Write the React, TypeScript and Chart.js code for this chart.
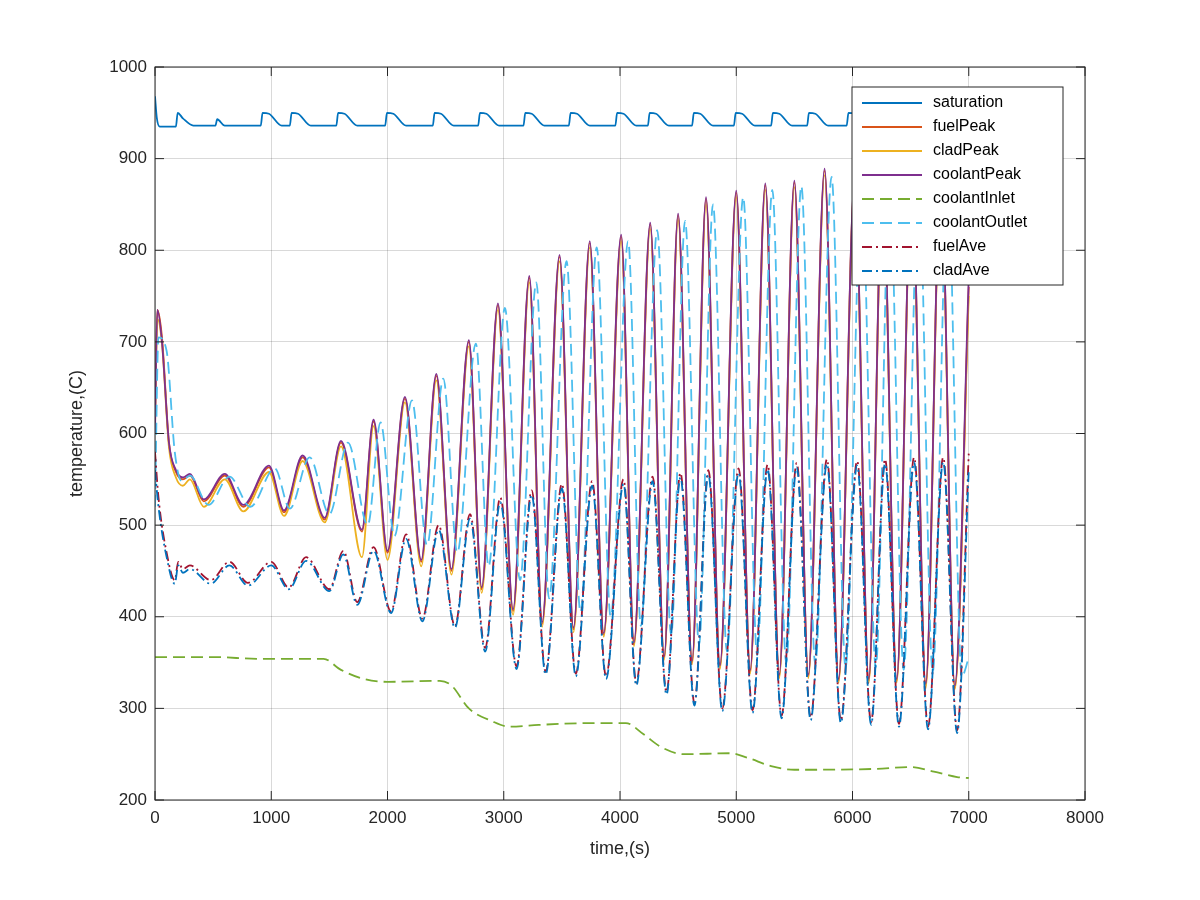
import React, { useEffect, useRef } from "react";
import { Chart, registerables } from "chart.js";

Chart.register(...registerables);

const seriesNames = ["saturation", "fuelPeak", "cladPeak", "coolantPeak", "coolantInlet", "coolantOutlet", "fuelAve", "cladAve"];
const seriesColors = ["#0072BD", "#D95319", "#EDB120", "#7E2F8E", "#77AC30", "#4DBEEE", "#A2142F", "#0072BD"];
const seriesDash = [[], [], [], [], [12, 6], [12, 6], [10, 4, 2, 4], [10, 4, 2, 4]];

const xTicks = [0, 1000, 2000, 3000, 4000, 5000, 6000, 7000, 8000];
const yTicks = [200, 300, 400, 500, 600, 700, 800, 900, 1000];

const saturation = [
  [0, 968], [15, 945], [40, 935], [180, 935], [195, 950], [240, 944], [330, 936], [520, 936], [535, 943], [600, 936],
  [910, 936], [925, 950], [980, 949], [1090, 936], [1160, 936], [1175, 950], [1230, 949], [1340, 936],
  [1560, 936], [1575, 950], [1630, 949], [1740, 936], [1980, 936], [1995, 950], [2050, 949], [2160, 936],
  [2390, 936], [2405, 950], [2460, 949], [2570, 936], [2780, 936], [2795, 950], [2850, 949], [2960, 936],
  [3170, 936], [3185, 950], [3240, 949], [3350, 936], [3560, 936], [3575, 950], [3630, 949], [3740, 936],
  [3960, 936], [3975, 950], [4030, 949], [4140, 936], [4240, 936], [4255, 950], [4310, 949], [4420, 936],
  [4620, 936], [4635, 950], [4690, 949], [4800, 936], [4980, 936], [4995, 950], [5050, 949], [5160, 936],
  [5300, 936], [5315, 950], [5370, 949], [5480, 936], [5610, 936], [5625, 950], [5680, 949], [5790, 936],
  [5950, 936], [5965, 950], [6020, 949], [6130, 936], [6250, 936], [6265, 950], [6320, 949], [6430, 936],
  [6580, 936], [6595, 950], [6650, 949], [6760, 936], [6870, 936], [6885, 950], [6940, 949], [7000, 944],
];

const coolantPeak = [
  [0, 600], [20, 735], [60, 700], [120, 590], [180, 560], [240, 552], [300, 556], [420, 528], [600, 556], [760, 522],
  [980, 565], [1110, 516], [1270, 576], [1460, 508], [1600, 592], [1780, 495], [1880, 615], [2000, 472],
  [2150, 640], [2290, 462], [2420, 665], [2550, 452], [2700, 702], [2810, 432], [2950, 742], [3080, 408],
  [3220, 772], [3330, 394], [3480, 795], [3600, 388], [3740, 810], [3860, 382], [4010, 817], [4120, 372],
  [4260, 830], [4380, 357], [4500, 840], [4620, 352], [4740, 858], [4860, 347], [5000, 865], [5120, 342],
  [5250, 873], [5370, 337], [5500, 876], [5620, 337], [5760, 889], [5880, 332], [6020, 880], [6140, 332],
  [6260, 880], [6380, 332], [6510, 885], [6630, 327], [6760, 885], [6880, 325], [7000, 770],
];
const fuelPeak = [
  [0, 620], [20, 735], [60, 705], [120, 590], [180, 558], [240, 550], [300, 554], [420, 526], [600, 554], [760, 520],
  [980, 563], [1110, 514], [1270, 574], [1460, 506], [1600, 590], [1780, 493], [1880, 613], [2000, 470],
  [2150, 638], [2290, 460], [2420, 663], [2550, 450], [2700, 700], [2810, 430], [2950, 740], [3080, 406],
  [3220, 770], [3330, 392], [3480, 793], [3600, 386], [3740, 808], [3860, 380], [4010, 815], [4120, 370],
  [4260, 828], [4380, 355], [4500, 838], [4620, 350], [4740, 856], [4860, 345], [5000, 863], [5120, 340],
  [5250, 871], [5370, 335], [5500, 874], [5620, 335], [5760, 887], [5880, 330], [6020, 878], [6140, 330],
  [6260, 878], [6380, 330], [6510, 883], [6630, 325], [6760, 883], [6880, 323], [7000, 760],
];
const cladPeak = [
  [0, 610], [20, 725], [60, 698], [120, 585], [180, 552], [240, 543], [300, 550], [420, 520], [600, 550], [760, 515],
  [980, 558], [1110, 510], [1270, 570], [1460, 503], [1600, 586], [1780, 465], [1880, 608], [2000, 462],
  [2150, 634], [2290, 455], [2420, 658], [2550, 446], [2700, 695], [2810, 426], [2950, 735], [3080, 402],
  [3220, 765], [3330, 389], [3480, 788], [3600, 383], [3740, 803], [3860, 378], [4010, 810], [4120, 368],
  [4260, 823], [4380, 353], [4500, 833], [4620, 348], [4740, 850], [4860, 343], [5000, 858], [5120, 338],
  [5250, 866], [5370, 333], [5500, 869], [5620, 333], [5760, 882], [5880, 328], [6020, 873], [6140, 328],
  [6260, 873], [6380, 328], [6510, 878], [6630, 322], [6760, 878], [6880, 321], [7000, 750],
];
const coolantOutlet = [
  [0, 520], [30, 705], [100, 690], [170, 580], [230, 548], [300, 554], [460, 522], [640, 553], [820, 520],
  [1030, 562], [1160, 518], [1330, 574], [1500, 512], [1660, 590], [1830, 500], [1940, 612], [2060, 488],
  [2210, 636], [2340, 478], [2480, 660], [2600, 470], [2760, 698], [2870, 455], [3010, 737], [3140, 440],
  [3280, 765], [3390, 420], [3540, 788], [3660, 405], [3800, 803], [3920, 400], [4070, 810], [4180, 390],
  [4320, 822], [4440, 380], [4560, 832], [4680, 370], [4800, 850], [4920, 362], [5060, 858], [5180, 358],
  [5310, 866], [5430, 350], [5560, 870], [5680, 348], [5820, 880], [5940, 345], [6080, 872], [6200, 345],
  [6320, 872], [6440, 342], [6570, 876], [6690, 340], [6820, 876], [6940, 335], [7000, 355],
];
const coolantInlet = [
  [0, 356], [500, 356], [900, 354], [1450, 354], [1600, 342], [1800, 332], [2000, 329], [2450, 330],
  [2550, 325], [2700, 300], [2900, 286], [3050, 280], [3300, 282], [3800, 284], [4050, 284], [4200, 272],
  [4350, 258], [4550, 250], [4950, 251], [5100, 246], [5300, 237], [5500, 233], [6200, 234], [6500, 236],
  [6700, 231], [6900, 225], [7000, 224],
];
const fuelAve = [
  [0, 580], [30, 530], [100, 470], [170, 440], [200, 460], [240, 452], [300, 456], [480, 440], [640, 460],
  [800, 437], [1000, 460], [1150, 432], [1300, 465], [1500, 430], [1620, 472], [1740, 416], [1880, 476],
  [2030, 406], [2160, 490], [2300, 398], [2440, 500], [2580, 390], [2710, 512], [2840, 366], [2970, 530],
  [3110, 346], [3240, 538], [3360, 340], [3500, 545], [3620, 338], [3760, 548], [3880, 335], [4030, 550],
  [4140, 328], [4280, 553], [4400, 318], [4520, 557], [4640, 306], [4760, 560], [4880, 300], [5020, 562],
  [5140, 298], [5270, 566], [5390, 292], [5520, 568], [5640, 290], [5780, 572], [5900, 287], [6040, 570],
  [6160, 285], [6280, 572], [6400, 283], [6530, 574], [6650, 280], [6780, 574], [6900, 276], [7000, 578],
];
const cladAve = [
  [0, 560], [30, 520], [100, 465], [170, 436], [200, 456], [240, 448], [300, 452], [480, 436], [640, 456],
  [800, 434], [1000, 456], [1150, 430], [1300, 461], [1500, 428], [1620, 468], [1740, 413], [1880, 472],
  [2030, 404], [2160, 485], [2300, 395], [2440, 495], [2580, 388], [2710, 507], [2840, 362], [2970, 525],
  [3110, 343], [3240, 533], [3360, 337], [3500, 540], [3620, 335], [3760, 543], [3880, 332], [4030, 545],
  [4140, 325], [4280, 548], [4400, 315], [4520, 552], [4640, 303], [4760, 555], [4880, 297], [5020, 557],
  [5140, 295], [5270, 561], [5390, 289], [5520, 563], [5640, 287], [5780, 567], [5900, 284], [6040, 565],
  [6160, 282], [6280, 567], [6400, 280], [6530, 569], [6650, 277], [6780, 569], [6900, 273], [7000, 560],
];

const seriesData = [saturation, fuelPeak, cladPeak, coolantPeak, coolantInlet, coolantOutlet, fuelAve, cladAve];

const FONT = "'Liberation Sans', Arial, sans-serif";

const frameAndLegend = {
  id: "frameAndLegend",
  afterDraw(chart: any) {
    const ctx = chart.ctx;
    const a = chart.chartArea;
    ctx.save();
    ctx.strokeStyle = "#262626";
    ctx.lineWidth = 1;
    ctx.setLineDash([]);
    ctx.strokeRect(a.left, a.top, a.right - a.left, a.bottom - a.top);
    const xs = chart.scales.x, ys = chart.scales.y;
    ctx.beginPath();
    xTicks.forEach((t) => {
      const px = xs.getPixelForValue(t);
      ctx.moveTo(px, a.bottom); ctx.lineTo(px, a.bottom - 9);
      ctx.moveTo(px, a.top); ctx.lineTo(px, a.top + 9);
    });
    yTicks.forEach((t) => {
      const py = ys.getPixelForValue(t);
      ctx.moveTo(a.left, py); ctx.lineTo(a.left + 9, py);
      ctx.moveTo(a.right, py); ctx.lineTo(a.right - 9, py);
    });
    ctx.stroke();
    const lx = 852, ly = 87, lw = 211, lh = 198;
    ctx.fillStyle = "#fff";
    ctx.fillRect(lx, ly, lw, lh);
    ctx.strokeRect(lx, ly, lw, lh);
    ctx.font = `16px ${FONT}`;
    ctx.textBaseline = "middle";
    seriesNames.forEach((name, i) => {
      const y = 103 + i * 24;
      ctx.strokeStyle = seriesColors[i];
      ctx.lineWidth = 2;
      ctx.setLineDash(seriesDash[i]);
      ctx.beginPath();
      ctx.moveTo(862, y); ctx.lineTo(922, y);
      ctx.stroke();
      ctx.fillStyle = "#000";
      ctx.fillText(name, 933, y);
    });
    ctx.restore();
  },
};

export default function App() {
  const canvasRef = useRef<HTMLCanvasElement>(null);

  useEffect(() => {
    const ctx = canvasRef.current?.getContext("2d");
    if (!ctx) return;
    const chart = new Chart(ctx, {
      type: "line",
      data: {
        datasets: seriesNames.map((name, i) => ({
          label: name,
          data: seriesData[i].map(([x, y]) => ({ x, y })),
          borderColor: seriesColors[i],
          borderDash: seriesDash[i],
          borderWidth: 1.8,
          pointRadius: 0,
          cubicInterpolationMode: "monotone",
          fill: false,
          order: 20 - i,
        })),
      },
      options: {
        responsive: false,
        animation: false,
        layout: { padding: { left: 62, right: 115, top: 67, bottom: 36 } },
        plugins: { legend: { display: false }, tooltip: { enabled: false } },
        scales: {
          x: {
            type: "linear",
            min: 0,
            max: 8000,
            afterFit: (s: any) => { s.height = 64; },
            afterBuildTicks: (s: any) => { s.ticks = xTicks.map((v) => ({ value: v })); },
            grid: { color: "rgba(0,0,0,0.15)", drawTicks: false },
            border: { display: false },
            ticks: { color: "#262626", font: { family: FONT, size: 17 }, padding: 8, callback: (v: any) => String(v) },
            title: { display: true, text: "time,(s)", color: "#262626", font: { family: FONT, size: 18 }, padding: { top: 4 } },
          },
          y: {
            type: "linear",
            min: 200,
            max: 1000,
            afterFit: (s: any) => { s.width = 93; },
            afterBuildTicks: (s: any) => { s.ticks = yTicks.map((v) => ({ value: v })); },
            grid: { color: "rgba(0,0,0,0.15)", drawTicks: false },
            border: { display: false },
            ticks: { color: "#262626", font: { family: FONT, size: 17 }, padding: 8, callback: (v: any) => String(v) },
            title: { display: true, text: "temperature,(C)", color: "#262626", font: { family: FONT, size: 18 }, padding: { bottom: 4 } },
          },
        },
      },
      plugins: [frameAndLegend],
    });
    return () => chart.destroy();
  }, []);

  return (
    <div style={{ position: "fixed", left: 0, top: 0, width: 1200, height: 900, background: "#fff" }}>
      <canvas ref={canvasRef} width={1200} height={900} style={{ width: 1200, height: 900 }} />
    </div>
  );
}
